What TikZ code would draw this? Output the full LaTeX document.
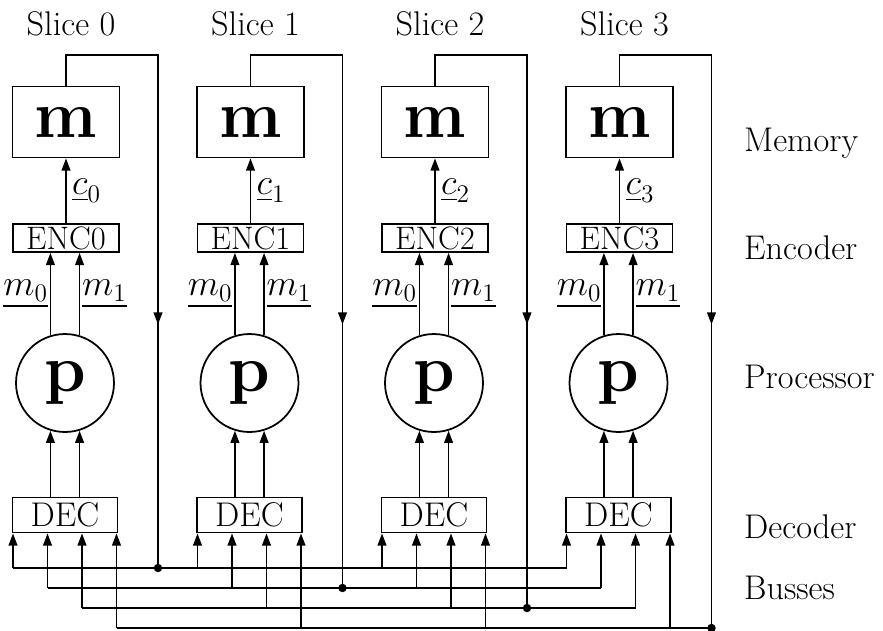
\documentclass[tikz,border=0pt]{standalone}
\usepackage{amsmath}
\usetikzlibrary{arrows.meta,calc,decorations.markings}

\begin{document}
\begin{tikzpicture}[x=0.02cm, y=-0.02cm,
  txt/.style={font=\fontsize{19.5}{22}\selectfont},
  membox/.style={rectangle, draw, line width=1pt, minimum width=2.14cm,
                 minimum height=1.42cm, inner sep=0pt,
                 font=\fontsize{38}{42}\selectfont\bfseries},
  encbox/.style={rectangle, draw, line width=1pt, minimum width=2.12cm,
                 minimum height=0.56cm, inner sep=0pt,
                 font=\fontsize{18.5}{20}\selectfont},
  decbox/.style={rectangle, draw, line width=1pt, minimum width=2.1cm,
                 minimum height=0.7cm, inner sep=0pt, txt},
  proc/.style={circle, draw, line width=1pt, minimum size=1.96cm,
               inner sep=0pt, font=\fontsize{38}{42}\selectfont\bfseries},
  wire/.style={line width=1pt},
  arr/.style={wire, -{Triangle[length=7pt,width=5pt]}},
  ret/.style={wire, postaction={decorate}, decoration={markings,
              mark=at position 7.86cm with {\arrow{Triangle[length=7pt,width=5pt]}}}}
]
\useasboundingbox (0,0) rectangle (883,630);

\foreach \k in {0,...,3}{
  \pgfmathsetmacro{\cx}{65+184.5*\k}
  \node[txt]    (s\k) at (\cx+6,24) {Slice \k};
  \node[membox] (m\k) at (\cx+1,122) {m};
  \node[encbox] (e\k) at (\cx+1,238) {ENC\k};
  \node[proc]   (p\k) at (\cx,383)   {p};
  \node[decbox] (d\k) at (\cx,515)   {DEC};

  \draw[arr] (e\k.north) -- (m\k.south)
    node[midway, right, txt, inner sep=3pt] (c\k) {$\underline{c}_\k$};
  \draw[arr] (p\k.107) -- (p\k.107 |- e\k.south)
    node[midway, left, txt, inner sep=1pt] (ma\k) {$\underline{m_0}$};
  \draw[arr] (p\k.73) -- (p\k.73 |- e\k.south)
    node[midway, right, txt, inner sep=1pt] (mb\k) {$\underline{m_1}$};
  \draw[arr] (p\k.253 |- d\k.north) -- (p\k.253);
  \draw[arr] (p\k.287 |- d\k.north) -- (p\k.287);

  \coordinate (t\k) at (\cx+93,568+20*\k);
  \draw[ret] (m\k.north) -- ++(0,-31) -| (t\k);
  \fill (t\k) circle (2.4pt);

  \foreach \j in {0,...,3}{
    \coordinate (b\k\j) at (\cx-52+34.5*\j,568+20*\j);
    \draw[arr] (b\k\j) -- (b\k\j |- d\k.south);
  }
}

\foreach \j in {0,...,3}
  \draw[wire] (b0\j) -- (b3\j);
\draw[wire] (b33) -- (t3);

\node[txt, anchor=west] (lmem) at (738,143) {Memory};
\node[txt, anchor=west] (lenc) at (738,248) {Encoder};
\node[txt, anchor=west] (lpro) at (738,377) {Processor};
\node[txt, anchor=west] (ldec) at (738,527) {Decoder};
\node[txt, anchor=west] (lbus) at (738,588) {Busses};

\end{tikzpicture}
\end{document}
